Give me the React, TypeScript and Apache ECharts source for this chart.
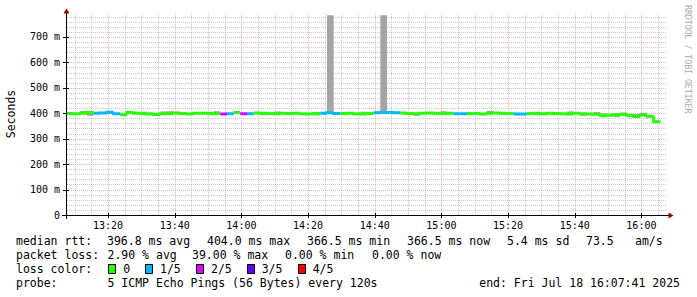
import React, { useEffect, useRef } from "react";
import * as echarts from "echarts";

// ---------- data ----------
const START_TIME = "13:07:41";
const END_TIME = "16:07:41";
const STEP_MINUTES = 2;

const xTickLabels = ["13:20", "13:40", "14:00", "14:20", "14:40", "15:00", "15:20", "15:40", "16:00"];
const yTickValues = [0, 100, 200, 300, 400, 500, 600, 700];
const Y_MAX = 790;

const medianMs = [
  399, 398, 400, 403, 400, 401, 404, 398, 394, 403,
  400, 400, 398, 395, 398, 399, 401, 399, 397, 400,
  400, 400, 399, 397, 398, 403, 398, 398, 401, 400,
  399, 398, 400, 399, 400, 398, 397, 399, 400, 402,
  399, 399, 400, 398, 397, 399, 402, 403, 403, 402,
  401, 399, 398, 400, 401, 400, 399, 400, 398, 398,
  399, 399, 397, 400, 401, 400, 399, 397, 397, 399,
  400, 398, 400, 399, 398, 397, 400, 398, 397, 396,
  390, 392, 394, 395, 392, 387, 393, 388, 366.5,
];
const lossCount = [
  0, 0, 0, 0, 1, 1, 1, 1, 0, 0,
  0, 0, 0, 0, 0, 0, 0, 0, 0, 0,
  0, 0, 0, 2, 1, 0, 2, 1, 0, 0,
  0, 0, 0, 0, 0, 0, 0, 0, 1, 1,
  1, 0, 0, 0, 0, 0, 1, 1, 1, 1,
  0, 0, 0, 0, 0, 0, 0, 0, 1, 1,
  0, 0, 0, 0, 0, 0, 0, 1, 1, 0,
  0, 0, 0, 0, 0, 0, 0, 0, 0, 0,
  0, 0, 0, 0, 0, 0, 0, 0, 0,
];
const smokeMinMs = [
  396, 395, 397, 390, 397, 398, 401, 395, 391, 400,
  397, 392, 391, 392, 395, 396, 398, 396, 394, 397,
  397, 392, 396, 394, 395, 400, 395, 395, 398, 392,
  396, 395, 397, 396, 397, 395, 394, 391, 397, 399,
  396, 396, 397, 395, 394, 396, 399, 400, 400, 399,
  398, 396, 390, 397, 398, 397, 396, 397, 395, 395,
  396, 396, 394, 397, 398, 397, 396, 394, 394, 396,
  392, 395, 397, 396, 395, 394, 397, 390, 394, 393,
  386, 389, 385, 392, 384, 383, 390, 384, 364,
];
const smokeMaxMs = [
  402, 401, 409, 405, 403, 404, 406, 401, 398, 405,
  403, 403, 401, 398, 407, 408, 404, 402, 400, 403,
  403, 403, 408, 400, 401, 405, 401, 401, 404, 403,
  402, 407, 403, 402, 403, 401, 400, 402, 403, 785,
  402, 402, 403, 401, 406, 402, 404, 785, 405, 404,
  404, 402, 401, 403, 404, 403, 408, 403, 401, 401,
  402, 402, 400, 409, 404, 403, 402, 400, 400, 402,
  403, 401, 403, 402, 401, 407, 403, 401, 400, 405,
  400, 395, 397, 403, 395, 397, 402, 391, 369,
];

const lossColors = ["#26ff00", "#00b8ff", "#dd00ff", "#5e00ff", "#ff0000"];
const lossLabels = ["0", "1/5", "2/5", "3/5", "4/5"];

const rttStats = ["396.8 ms avg", "404.0 ms max", "366.5 ms min", "366.5 ms now", "5.4 ms sd", "73.5", "am/s"];
const lossStats = ["2.90 % avg", "39.00 % max", "0.00 % min", "0.00 % now"];
const probeText = "5 ICMP Echo Pings (56 Bytes) every 120s";
const endText = "end: Fri Jul 18 16:07:41 2025";

// ---------- layout (pixels / styles) ----------
const W = 697, H = 297;
const GRID = { left: 67, top: 14, width: 600, height: 201 };
const FONT = "DejaVu Sans Mono";
const LEG_FS = 11.5;
const rttX = [107, 207, 307, 407, 507, 586, 635];
const lossX = [107.5, 192, 285, 372];
const boxX = [108.5, 145.5, 196.5, 247.5, 298.5];
const boxLabelX = [123.3, 160, 211, 261.7, 312.7];
const rowY = [241, 255, 269, 283];

const toMin = (s: string) => {
  const p = s.split(":").map(Number);
  return p[0] * 60 + p[1] + (p[2] || 0) / 60;
};
const X_MIN = toMin(START_TIME);
const X_MAX = toMin(END_TIME);
const stepTimes = medianMs.map((_, i) => X_MIN + i * STEP_MINUTES);

const fmtTime = (v: number) => {
  const h = Math.floor(v / 60 + 1e-9);
  const m = Math.round(v - h * 60);
  return `${h}:${String(m).padStart(2, "0")}`;
};

export default function App() {
  const ref = useRef<HTMLDivElement>(null);
  useEffect(() => {
    if (!ref.current) return;
    const chart = echarts.init(ref.current, undefined, { renderer: "svg" });

    const crisp = (v: number) => Math.round(v) + 0.5;

    const gridRender = (_p: any, api: any) => {
      const children: any[] = [];
      const top = api.coord([X_MIN, Y_MAX])[1];
      const bottom = api.coord([X_MIN, 0])[1];
      const left = api.coord([X_MIN, 0])[0];
      const right = api.coord([X_MAX, 0])[0];
      const minorStyle = { stroke: "rgba(140,140,140,0.45)", lineWidth: 1, lineDash: [1, 1] };
      const majorStyle = { stroke: "rgba(225,110,110,0.5)", lineWidth: 1, lineDash: [1, 1] };
      const majorX = xTickLabels.map(toMin);
      for (let m = Math.ceil(X_MIN / 5) * 5; m < X_MAX; m += 5) {
        if (majorX.some((t) => Math.abs(t - m) < 1e-6)) continue;
        const x = crisp(api.coord([m, 0])[0]);
        children.push({ type: "line", shape: { x1: x, y1: top, x2: x, y2: bottom }, style: minorStyle });
      }
      for (let v = 20; v < Y_MAX; v += 20) {
        if (v % 100 === 0) continue;
        const y = crisp(api.coord([X_MIN, v])[1]);
        children.push({ type: "line", shape: { x1: left, y1: y, x2: right, y2: y }, style: minorStyle });
      }
      majorX.forEach((m) => {
        const x = crisp(api.coord([m, 0])[0]);
        children.push({ type: "line", shape: { x1: x, y1: top, x2: x, y2: bottom }, style: majorStyle });
        children.push({ type: "line", shape: { x1: x, y1: bottom - 2, x2: x, y2: bottom + 3 }, style: { stroke: "#000", lineWidth: 1 } });
      });
      yTickValues.forEach((v) => {
        if (v === 0) return;
        const y = crisp(api.coord([X_MIN, v])[1]);
        children.push({ type: "line", shape: { x1: left, y1: y, x2: right, y2: y }, style: majorStyle });
        children.push({ type: "line", shape: { x1: left - 4, y1: y, x2: left + 2, y2: y }, style: { stroke: "#000", lineWidth: 1 } });
      });
      return { type: "group", children };
    };

    const smokeRender = (_p: any, api: any) => {
      const t = api.value(0);
      const lo = api.coord([t, api.value(1)]);
      const hi = api.coord([t + STEP_MINUTES, api.value(2)]);
      return {
        type: "rect",
        shape: { x: lo[0], y: hi[1], width: hi[0] - lo[0], height: lo[1] - hi[1] },
        style: { fill: "#a4a4a4" },
      };
    };

    const medianRender = (p: any, api: any) => {
      const i = p.dataIndex;
      const t = api.value(0);
      const v = api.value(1);
      const p0 = api.coord([t, v]);
      const p1 = api.coord([t + STEP_MINUTES, v]);
      const color = lossColors[lossCount[i]];
      const pts: number[][] = [];
      if (i > 0 && lossCount[i - 1] === lossCount[i]) {
        const pp = api.coord([t, medianMs[i - 1]]);
        pts.push([p0[0], pp[1]]);
      }
      pts.push([p0[0], p0[1]], [p1[0], p1[1]]);
      return {
        type: "polyline",
        shape: { points: pts },
        style: { stroke: color, lineWidth: 3, fill: "none", lineJoin: "miter", lineCap: "butt" },
      };
    };

    const text = (t: string, x: number, y: number, extra: any = {}, rotation = 0) => ({
      type: "text",
      x,
      y,
      rotation,
      silent: true,
      style: {
        text: t,
        fontSize: LEG_FS,
        fontFamily: FONT,
        fill: "#000",
        textVerticalAlign: "middle",
        ...extra,
      },
    });

    const graphics: any[] = [
      // axes lines and arrows
      { type: "line", silent: true, z: 10, shape: { x1: 62, y1: 215.5, x2: 669, y2: 215.5 }, style: { stroke: "#000", lineWidth: 1 } },
      { type: "line", silent: true, z: 10, shape: { x1: 66.5, y1: 219, x2: 66.5, y2: 12 }, style: { stroke: "#000", lineWidth: 1 } },
      { type: "polygon", silent: true, z: 11, shape: { points: [[63.5, 13.5], [69.5, 13.5], [66.5, 8.5]] }, style: { fill: "#990000" } },
      { type: "polygon", silent: true, z: 11, shape: { points: [[668.5, 212.5], [668.5, 218.5], [673.5, 215.5]] }, style: { fill: "#990000" } },
      // y axis title
      text("Seconds", 11, 114, { textAlign: "center" }, Math.PI / 2),
      // watermark
      {
        type: "text",
        x: 688,
        y: 5,
        rotation: -Math.PI / 2,
        silent: true,
        style: { text: "RRDTOOL / TOBI OETIKER", fontSize: 8.2, fontFamily: FONT, fill: "#aaaaaa", textAlign: "left", textVerticalAlign: "middle" },
      },
      // legend rows
      text("median rtt:", 16, rowY[0]),
      ...rttStats.map((s, i) => text(s, rttX[i], rowY[0])),
      text("packet loss:", 16, rowY[1]),
      ...lossStats.map((s, i) => text(s, lossX[i], rowY[1])),
      text("loss color:", 16, rowY[2]),
      ...lossLabels.map((s, i) => ({
        type: "rect",
        silent: true,
        shape: { x: boxX[i], y: rowY[2] - 4.5, width: 7, height: 9 },
        style: { fill: lossColors[i], stroke: "#000", lineWidth: 1 },
      })),
      ...lossLabels.map((s, i) => text(s, boxLabelX[i], rowY[2])),
      text("probe:", 16, rowY[3]),
      text(probeText, 107.5, rowY[3]),
      text(endText, 680, rowY[3], { textAlign: "right" }),
    ];

    chart.setOption({
      animation: false,
      backgroundColor: "#ffffff",
      grid: { ...GRID, containLabel: false },
      xAxis: {
        type: "value",
        min: X_MIN,
        max: X_MAX,
        splitNumber: 9,
        axisLine: { show: false },
        axisTick: { show: false },
        splitLine: { show: false },
        axisLabel: {
          showMinLabel: false,
          showMaxLabel: false,
          formatter: (v: number) => fmtTime(v),
          fontSize: 10,
          fontFamily: FONT,
          color: "#000",
          margin: 5,
        },
      },
      yAxis: {
        type: "value",
        min: 0,
        max: Y_MAX,
        interval: 100,
        axisLine: { show: false },
        axisTick: { show: false },
        splitLine: { show: false },
        axisLabel: {
          showMaxLabel: false,
          formatter: (v: number) => (v === 0 ? "0" : `${v} m`),
          fontSize: 10,
          fontFamily: FONT,
          color: "#000",
          margin: 7,
        },
      },
      graphic: graphics,
      series: [
        {
          type: "custom",
          name: "grid",
          silent: true,
          z: 1,
          clip: false,
          data: [[X_MIN, 0]],
          encode: { x: 0, y: 1 },
          renderItem: gridRender,
        },
        {
          type: "custom",
          name: "smoke",
          silent: true,
          z: 2,
          clip: true,
          data: stepTimes.map((t, i) => [t, smokeMinMs[i], smokeMaxMs[i]]),
          encode: { x: 0, y: [1, 2] },
          renderItem: smokeRender,
        },
        {
          type: "custom",
          name: "median rtt",
          silent: true,
          z: 3,
          clip: true,
          data: stepTimes.map((t, i) => [t, medianMs[i]]),
          encode: { x: 0, y: 1 },
          renderItem: medianRender,
        },
      ],
    });
    return () => chart.dispose();
  }, []);

  return (
    <div
      ref={ref}
      style={{ position: "fixed", left: 0, top: 0, width: W, height: H, background: "#fff" }}
    />
  );
}
